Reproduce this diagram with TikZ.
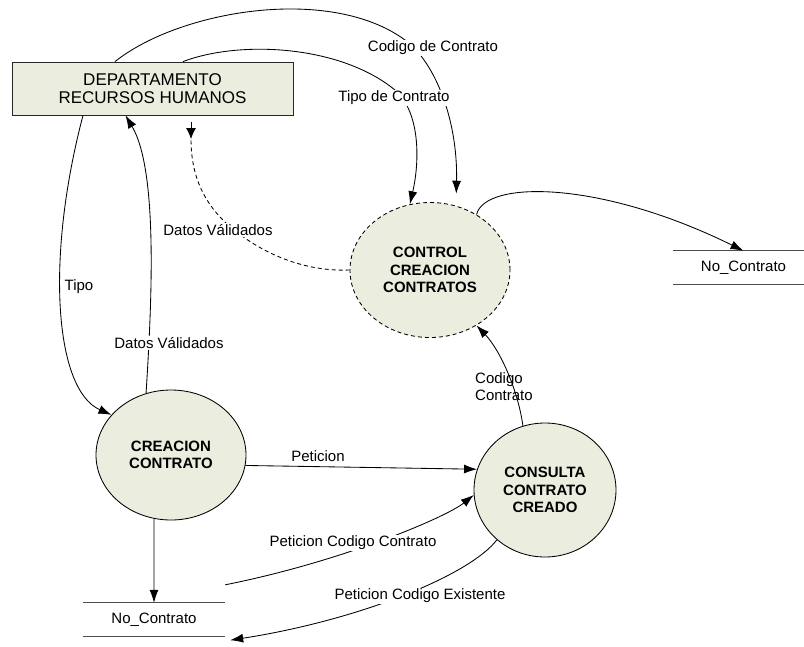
\documentclass[tikz,border=0pt]{standalone}
\usepackage{fontspec}
\setmainfont{Liberation Sans}
\usetikzlibrary{shapes.geometric,arrows.meta}
\definecolor{procfill}{RGB}{235,238,222}
\begin{document}
\begin{tikzpicture}[x=1pt,y=-1pt,
  font=\fontsize{15}{17.5}\selectfont,
  flow/.style={draw=black,line width=0.85pt,-{Latex[length=13pt,width=9pt]}},
  dashflow/.style={draw=black,line width=0.85pt,dash pattern=on 4pt off 3pt},
  proc/.style={ellipse,draw=black,line width=0.85pt,fill=procfill,inner sep=0pt,
    align=center,font=\fontsize{15}{17.5}\selectfont\bfseries},
  ext/.style={rectangle,draw=black!85,line width=0.85pt,fill=procfill,
    minimum width=281pt,minimum height=53pt,align=center,
    font=\fontsize{17}{18.5}\selectfont},
  store/.style={minimum height=33pt,inner sep=0pt},
  storeline/.style={draw=black!70,line width=0.9pt},
  lbl/.style={fill=white,inner sep=1pt},
]
\useasboundingbox (0,0) rectangle (804,646);

% external entity, processes and data stores
\node[ext] (dep) at (152.5,88.5) {DEPARTAMENTO\\RECURSOS HUMANOS};
\node[proc,dash pattern=on 4pt off 3pt,minimum width=160pt,minimum height=135pt]
  (ctrl) at (430,270) {CONTROL\\CREACION\\CONTRATOS};
\node[proc,minimum width=150pt,minimum height=130pt] (crea) at (171,455) {CREACION\\CONTRATO};
\node[proc,minimum width=142pt,minimum height=134pt] (cons) at (545,490) {CONSULTA\\CONTRATO\\CREADO};
\node[store,minimum width=141pt] (stR) at (743.5,267.5) {No\_Contrato};
\node[store,minimum width=142pt] (stL) at (154,619.5) {No\_Contrato};
\draw[storeline] (stR.north west) -- (stR.north east) (stR.south west) -- (stR.south east);
\draw[storeline] (stL.north west) -- (stL.north east) (stL.south west) -- (stL.south east);

% flows
\draw[flow,shorten >=12pt] ([xshift=-37.5pt]dep.north) .. controls (180,10) and (330,-15) .. (405,40)
  .. controls (435,62) and (458,120) .. (ctrl.68);
\draw[flow] ([xshift=30.5pt]dep.north) .. controls (240,40) and (340,45) .. (395,90)
  .. controls (420,112) and (420,160) .. (ctrl.107);

\coordinate (dvEnd) at (191,139);
\coordinate (dvTop) at (191,122);
\draw[dashflow] (ctrl.west) .. controls (300,272) and (255,250) .. (225,222)
  .. controls (200,198) and (191,170) .. (dvEnd);
\draw[draw=black,line width=0.85pt,-{Latex[length=11pt,width=10pt]}] (dvTop) -- (dvEnd);

\draw[flow] ([xshift=-69.5pt]dep.south) .. controls (45,260) and (55,390) .. (crea.146);
\draw[flow] (crea.112) .. controls (152,300) and (158,170) .. ([xshift=-27pt]dep.south);
\draw[flow] (crea.-8) -- (cons.163);
\draw[flow] (cons.109) .. controls (518,390) and (500,350) .. (ctrl.-50);
\draw[flow] (crea.-105) -- (stL.north);
\draw[flow] ([yshift=18pt]stL.north east) .. controls (340,562) and (445,518) .. (cons.184);
\draw[flow] (cons.-134) .. controls (470,575) and (360,620) .. ([xshift=5pt,yshift=-4pt]stL.south east);
\draw[flow] (ctrl.50) .. controls (485,180) and (600,180) .. (stR.north);

% flow labels
\node[lbl] (lCod) at (433,48) {Codigo de Contrato};
\node[lbl] (lTip) at (394,98) {Tipo de Contrato};
\node[lbl] (lDv1) at (218,230) {Datos Válidados};
\node[lbl] (lTipo) at (79,287) {Tipo};
\node[lbl] (lDv2) at (169,343) {Datos Válidados};
\node[lbl] (lPet) at (318,456) {Peticion};
\node[align=left,anchor=west,inner sep=0pt] (lCC) at (475,386.5) {Codigo\\Contrato};
\node[lbl] (lPCC) at (353,543) {Peticion Codigo Contrato};
\node[lbl] (lPCE) at (420,596) {Peticion Codigo Existente};
\end{tikzpicture}
\end{document}
